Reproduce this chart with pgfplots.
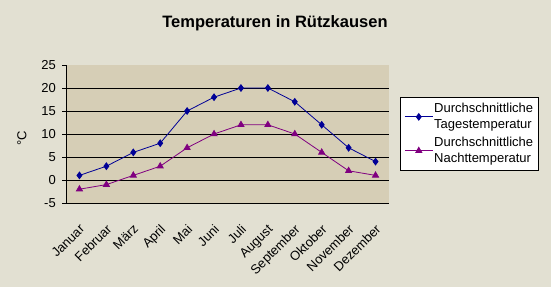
\documentclass[border=0pt]{standalone}
\usepackage{pgfplots}
\pgfplotsset{compat=1.18}
\usepackage{fontspec}
\setmainfont{Liberation Sans}
\definecolor{pagebg}{RGB}{226,224,210}
\definecolor{plotbg}{RGB}{214,206,182}
\definecolor{tag}{RGB}{0,0,150}
\definecolor{nacht}{RGB}{128,0,128}
\begin{document}
\begin{tikzpicture}
\useasboundingbox (0,0) rectangle (551pt,287pt);
\fill[pagebg] (0,0) rectangle (551pt,287pt);
\node[font=\fontsize{16.5}{18}\selectfont\bfseries] at (275pt,264pt) {Temperaturen in Rützkausen};
\begin{axis}[
  at={(66pt,84pt)}, anchor=south west,
  width=323pt, height=138pt, scale only axis,
  xmin=-0.5, xmax=11.5, ymin=-5, ymax=25,
  axis background/.style={fill=plotbg},
  axis x line*=bottom, axis y line*=left,
  axis line style={black, line width=0.8pt},
  x axis line style={-}, y axis line style={-},
  xtick={0,...,11},
  xticklabels={Januar,Februar,März,April,Mai,Juni,Juli,August,September,Oktober,November,Dezember},
  xtick style={draw=none},
  minor xtick={-0.5,0.5,...,11.5},
  ytick={-5,0,...,25},
  minor ytick={0,5,10,15,20},
  yminorgrids=true,
  minor grid style={black, line width=0.8pt},
  tick align=outside,
  major tick length=4pt, minor tick length=4pt,
  tick style={black, line width=0.8pt},
  ticklabel style={font=\fontsize{13}{15}\selectfont},
  xticklabel style={rotate=45, anchor=north east, inner sep=0pt, yshift=-11pt, xshift=-12pt},
  yticklabel style={inner sep=0pt, xshift=-6pt},
  /pgf/number format/assume math mode=true,
  ylabel={°C}, ylabel style={font=\fontsize{13}{15}\selectfont, at={(-44pt,65pt)}, anchor=center},
  legend style={at={(1.034,0.768)}, anchor=north west, draw=black, line width=0.8pt, fill=white,
    font=\fontsize{13}{16}\selectfont, nodes={align=left, inner sep=1pt}, row sep=5pt, inner xsep=4pt, inner ysep=5pt},
  legend cell align=left,
  legend image post style={line width=0.8pt},
  legend image code/.code={\draw[#1] (0pt,0pt) -- (28pt,0pt); \draw[#1, only marks] plot coordinates {(14pt,0pt)};},
]
\addplot[tag, line width=0.8pt, mark=diamond*, mark size=3.3pt, mark options={solid, fill=tag}]
  coordinates {(0,1)(1,3)(2,6)(3,8)(4,15)(5,18)(6,20)(7,20)(8,17)(9,12)(10,7)(11,4)};
\addlegendentry{Durchschnittliche\\Tagestemperatur}
\addplot[nacht, line width=0.8pt, mark=triangle*, mark size=3.5pt, mark options={solid, fill=nacht}]
  coordinates {(0,-2)(1,-1)(2,1)(3,3)(4,7)(5,10)(6,12)(7,12)(8,10)(9,6)(10,2)(11,1)};
\addlegendentry{Durchschnittliche\\Nachttemperatur}
\end{axis}
\end{tikzpicture}
\end{document}
